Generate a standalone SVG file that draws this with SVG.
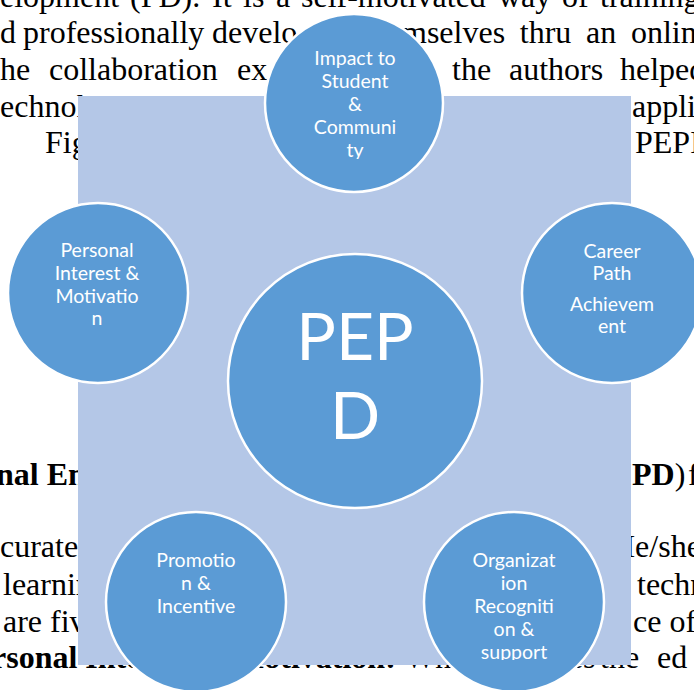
<svg xmlns="http://www.w3.org/2000/svg" width="694" height="690" viewBox="0 0 694 690">
  <defs>
    <style>
      .doc { font-family: "Liberation Serif", "Times New Roman", serif; font-size: 32px; fill: #000; }
      .b { font-weight: bold; }
      .panel { fill: #b4c7e7; }
      .node circle { fill: #5b9bd5; stroke: #ffffff; stroke-width: 2.5; }
      .node text { font-family: Lato, "Open Sans", sans-serif; font-size: 19.5px; fill: #ffffff; text-anchor: middle; }
      .node text.big { font-size: 66px; }
    </style>
    <clipPath id="clip-impact"><rect x="260" y="14" width="190" height="145"/></clipPath>
    <clipPath id="clip-org"><rect x="420" y="512" width="190" height="148"/></clipPath>
  </defs>

  <rect width="694" height="690" fill="#ffffff"/>

  <!-- page text behind the figure -->
  <g id="page-text" class="doc">
    <text y="7"><tspan x="0">elopment</tspan><tspan x="130">(PD).</tspan><tspan x="212">It</tspan><tspan x="243">is</tspan><tspan x="276">a</tspan><tspan x="301">self-motivated</tspan><tspan x="498">way</tspan><tspan x="562">of</tspan><tspan x="600">training</tspan></text>
    <text y="43"><tspan x="0">d</tspan><tspan x="23">professionally</tspan><tspan x="212">develo</tspan></text>
    <text y="43" x="402" word-spacing="6.7">mselves thru an onlin</text>
    <text y="80"><tspan x="0">he</tspan><tspan x="49">collaboration</tspan><tspan x="237">ex</tspan><tspan x="452">the</tspan><tspan x="509">authors</tspan><tspan x="620">helped</tspan></text>
    <text y="117"><tspan x="0">echnol</tspan><tspan x="632">appli</tspan></text>
    <text y="153"><tspan x="45">Fig</tspan><tspan x="635">PEPD</tspan></text>
    <text y="485"><tspan x="-4" class="b">nal Eng</tspan><tspan x="632" class="b">PD</tspan><tspan>)</tspan><tspan x="688">f</tspan></text>
    <text y="557"><tspan x="0">curated</tspan><tspan x="612">He/she</tspan></text>
    <text y="595"><tspan x="3">learning</tspan><tspan x="637">techn</tspan></text>
    <text y="632"><tspan x="3">are five</tspan><tspan x="633">ce of</tspan></text>
    <text y="668"><tspan x="-8" class="b">rsonal Interest &amp; Motivation:</tspan><tspan x="405">Wh</tspan><tspan x="560">tes</tspan><tspan x="600">the</tspan><tspan x="657">ed</tspan></text>
  </g>

  <!-- figure background panel -->
  <rect class="panel" x="78" y="96" width="553" height="569"/>

  <g id="node-pepd" class="node">
    <circle cx="355" cy="381" r="127"/>
    <text class="big" x="355" y="360">PEP</text>
    <text class="big" x="355" y="439">D</text>
  </g>

  <g id="node-impact" class="node">
    <circle cx="354" cy="103" r="89"/>
    <text clip-path="url(#clip-impact)"><tspan x="355" y="65">Impact to</tspan><tspan x="355" y="88">Student</tspan><tspan x="355" y="111">&amp;</tspan><tspan x="355" y="134">Communi</tspan><tspan x="355" y="157">ty</tspan></text>
  </g>

  <g id="node-personal" class="node">
    <circle cx="98" cy="293" r="90"/>
    <text><tspan x="97" y="257">Personal</tspan><tspan x="97" y="280">Interest &amp;</tspan><tspan x="97" y="303">Motivatio</tspan><tspan x="97" y="325">n</tspan></text>
  </g>

  <g id="node-career" class="node">
    <circle cx="612" cy="293" r="90"/>
    <text><tspan x="612" y="258">Career</tspan><tspan x="612" y="280">Path</tspan><tspan x="612" y="311">Achievem</tspan><tspan x="612" y="333">ent</tspan></text>
  </g>

  <g id="node-promotion" class="node">
    <circle cx="196" cy="602" r="90"/>
    <text><tspan x="196" y="567">Promotio</tspan><tspan x="196" y="590">n &amp;</tspan><tspan x="196" y="613">Incentive</tspan></text>
  </g>

  <g id="node-organization" class="node">
    <circle cx="514" cy="602" r="90"/>
    <text clip-path="url(#clip-org)"><tspan x="514" y="567">Organizat</tspan><tspan x="514" y="590">ion</tspan><tspan x="514" y="613">Recogniti</tspan><tspan x="514" y="636">on &amp;</tspan><tspan x="514" y="659">support</tspan></text>
  </g>

  <g id="connectors"/>
</svg>
